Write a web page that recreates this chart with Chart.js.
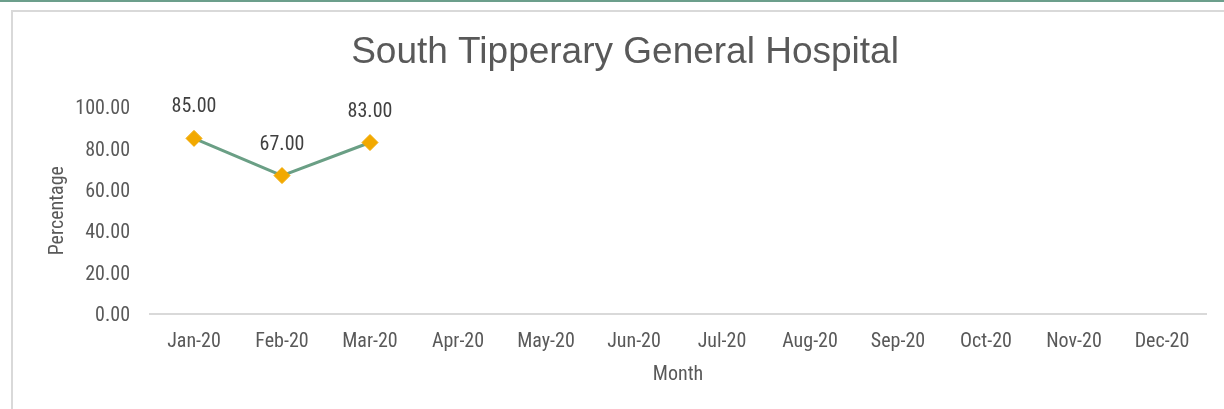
<!DOCTYPE html>
<html>
<head>
<meta charset="utf-8">
<script src="https://cdn.jsdelivr.net/npm/chart.js@4.4.1/dist/chart.umd.min.js"></script>
<style>
  body { margin: 0; background: #fff; overflow: hidden; }
  #topbar { position: absolute; left: 0; top: 0; width: 1224px; height: 2px; background: #6c9f8c; }
  #frame { position: absolute; left: 11px; top: 10px; width: 1300px; height: 500px;
           border-left: 2px solid #d9d9d9; border-top: 2px solid #d9d9d9; }
  #chart { position: absolute; left: 0; top: 0; }
</style>
</head>
<body>
<div id="topbar"></div>
<div id="frame"></div>
<canvas id="chart" width="1224" height="409"></canvas>
<script>
var months = ['Jan-20', 'Feb-20', 'Mar-20', 'Apr-20', 'May-20', 'Jun-20',
              'Jul-20', 'Aug-20', 'Sep-20', 'Oct-20', 'Nov-20', 'Dec-20'];
var percentage = [85, 67, 83, null, null, null, null, null, null, null, null, null];
var y_ticks = [0, 20, 40, 60, 80, 100];

var narrow = "'Roboto Condensed', 'Liberation Sans Narrow', 'Arial Narrow', sans-serif";

// draws the value above each point, like excel data labels
var valueLabels = {
    id: 'valueLabels',
    afterDatasetsDraw: function(chart){
        var ctx = chart.ctx;
        var meta = chart.getDatasetMeta(0);
        ctx.save();
        ctx.font = '20px ' + narrow;
        ctx.fillStyle = '#404040';
        ctx.textAlign = 'center';
        ctx.textBaseline = 'middle';
        meta.data.forEach(function(pt, i){
            var v = percentage[i];
            if (v === null) return;
            ctx.fillText(v.toFixed(2), pt.x, pt.y - 31);
        });
        ctx.restore();
    }
};

const data = {
    labels: months,
    datasets: [{
        label: 'Percentage',
        data: percentage,
        borderColor: '#6a9f85',
        borderWidth: 3,
        pointStyle: 'rectRot',
        pointRadius: 8,
        pointBackgroundColor: '#f2a900',
        pointBorderColor: '#f2a900',
        pointBorderWidth: 1,
        tension: 0,
        spanGaps: false
    }]
};

const config = {
    type: 'line',
    data,
    options: {
        responsive: false,
        animation: false,
        layout: { padding: { top: 0, left: 44, right: 18, bottom: 22 } },
        plugins: {
            legend: { display: false },
            tooltip: { enabled: false },
            title: {
                display: true,
                text: 'South Tipperary General Hospital',
                color: '#595959',
                font: { family: "'Liberation Sans', Arial, sans-serif", size: 37, weight: 'normal' },
                padding: { top: 31, bottom: 32 }
            }
        },
        scales: {
            x: {
                offset: true,
                grid: { display: false, drawTicks: false },
                border: { display: true, color: '#d9d9d9', width: 2 },
                ticks: { color: '#595959', font: { family: narrow, size: 20 }, padding: 16,
                         maxRotation: 0, autoSkip: false },
                title: { display: true, text: 'Month', color: '#595959',
                         font: { family: narrow, size: 20 }, padding: 0 },
                afterFit: function(scale){ scale.height = 73; }
            },
            y: {
                min: 0,
                max: 100,
                afterBuildTicks: function(scale){
                    scale.ticks = y_ticks.map(function(v){ return { value: v }; });
                },
                grid: { display: false, drawTicks: false },
                border: { display: false },
                ticks: { color: '#595959', font: { family: narrow, size: 20 }, padding: 20,
                         labelOffset: 2,
                         callback: function(v){ return Number(v).toFixed(2); } },
                title: { display: true, text: 'Percentage', color: '#595959',
                         font: { family: narrow, size: 20 }, padding: { top: 2, bottom: 0 } },
                afterFit: function(scale){ scale.width = 106; }
            }
        }
    },
    plugins: [valueLabels]
};

const ctx = document.getElementById('chart').getContext('2d');
const myChart = new Chart(ctx, config);
</script>
</body>
</html>
